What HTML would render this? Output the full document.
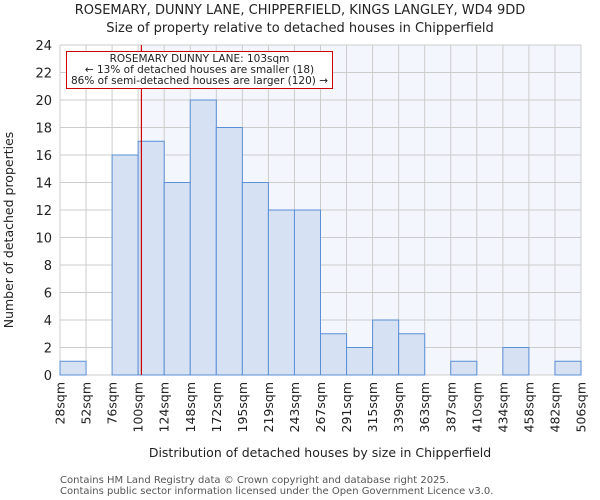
<!DOCTYPE html>
<html><head><meta charset="utf-8"><style>
html,body{margin:0;padding:0;background:#fff;}
svg{display:block;font-family:"DejaVu Sans","Liberation Sans",sans-serif;}
</style></head><body>
<svg id="chart" width="600" height="500" viewBox="0 0 600 500" xmlns="http://www.w3.org/2000/svg">
<text x="300" y="14" text-anchor="middle" font-size="13" fill="#222">ROSEMARY, DUNNY LANE, CHIPPERFIELD, KINGS LANGLEY, WD4 9DD</text>
<text x="300" y="32" text-anchor="middle" font-size="13" fill="#222">Size of property relative to detached houses in Chipperfield</text>
<g id="plot"></g>
<text x="320" y="457" text-anchor="middle" font-size="12.5" fill="#222">Distribution of detached houses by size in Chipperfield</text>
<text transform="translate(13,230) rotate(-90)" text-anchor="middle" font-size="12.5" fill="#222">Number of detached properties</text>
<text x="60" y="483" font-size="10" fill="#555">Contains HM Land Registry data © Crown copyright and database right 2025.</text>
<text x="60" y="494" font-size="10" fill="#555">Contains public sector information licensed under the Open Government Licence v3.0.</text>
</svg>
<script>
const binEdges=[28,52,76,100,124,148,172,195,219,243,267,291,315,339,363,387,410,434,458,482,506];
const counts=[1,0,16,17,14,20,18,14,12,12,3,2,4,3,0,1,0,2,0,1];
const yTicks=[0,2,4,6,8,10,12,14,16,18,20,22,24];
const propertySize=103;
const NS="http://www.w3.org/2000/svg";
const L=60,R=581,T=45,B=375,YMAX=24;
const nb=counts.length;
const xIdx=i=>L+(R-L)*i/nb;
function xVal(v){for(let i=0;i<nb;i++){if(v<=binEdges[i+1]){return xIdx(i)+(v-binEdges[i])/(binEdges[i+1]-binEdges[i])*(R-L)/nb;}}return R;}
const y=v=>B-(B-T)*v/YMAX;
const g=document.getElementById('plot');
function mk(tag,attrs){const e=document.createElementNS(NS,tag);for(const k in attrs)e.setAttribute(k,attrs[k]);g.appendChild(e);return e;}
const px=xVal(propertySize);
let e=mk('rect',{x:L,y:T,width:R-L,height:B-T,fill:'#fff'});


e=mk('rect',{x:px,y:T,width:R-px,height:B-T,fill:'#f3f6fd'});


yTicks.forEach(t=>{
 let l=mk('line',{x1:L,x2:R,y1:y(t),y2:y(t),stroke:'#cccccc','stroke-width':1});
 
 
 let tx=mk('text',{x:L-8,y:y(t)+5,'text-anchor':'end','font-size':13,fill:'#222'});
 tx.textContent=t;
 
 
});
binEdges.forEach((b,i)=>{
 let l=mk('line',{x1:xIdx(i),x2:xIdx(i),y1:T,y2:B,stroke:'#cccccc','stroke-width':1});
 
 
 let xx=xIdx(i)+4.5;
 let tx=mk('text',{transform:`translate(${xx},382) rotate(-90)`,'text-anchor':'end','font-size':12.5,fill:'#222'});
 tx.textContent=b+'sqm';
 
 
});
counts.forEach((c,i)=>{
 if(c<=0)return;
 let r=mk('rect',{x:xIdx(i),y:y(c),width:(R-L)/nb,height:B-y(c),fill:'#d6e1f3',stroke:'#5b8fd6','stroke-width':1});
 
 
});
e=mk('line',{x1:px,x2:px,y1:T,y2:B,stroke:'#cc0000','stroke-width':1.2});


e=mk('rect',{x:66.5,y:51.5,width:266,height:37,fill:'#fff',stroke:'#cc0000','stroke-width':1});


const lines=['ROSEMARY DUNNY LANE: 103sqm','← 13% of detached houses are smaller (18)','86% of semi-detached houses are larger (120) →'];
lines.forEach((s,i)=>{
 let tx=mk('text',{x:199.5,y:62+i*11,'text-anchor':'middle','font-size':10.5,fill:'#222'});
 tx.textContent=s;
 
 
});
</script>
</body></html>
